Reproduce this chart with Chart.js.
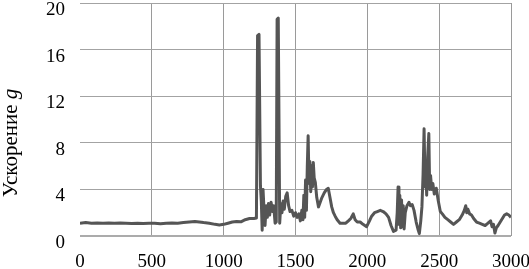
<!DOCTYPE html>
<html>
<head>
<meta charset="utf-8">
<script src="https://cdn.jsdelivr.net/npm/chart.js@4"></script>
<style>
    html, body { margin: 0; padding: 0; background: #fff; }
    #wrap { width: 529px; height: 269px; position: relative; }
</style>
</head>
<body>
<div id="wrap"><canvas id="accelChart"></canvas></div>
<script>
// time axis (x) and acceleration in g (y)
const timeValues = [
    0, 40, 80, 120, 160, 200, 240, 280, 320, 360, 400, 440, 480, 520, 560, 600, 640, 680, 720, 760,
    800, 830, 860, 900, 940, 970, 1000, 1030, 1060, 1090, 1120, 1150, 1180, 1210, 1228,
    1236, 1246, 1256, 1262, 1268, 1274, 1282, 1288, 1296, 1304, 1312, 1320, 1330, 1340, 1348, 1358,
    1366, 1372, 1380, 1390, 1398, 1406, 1414, 1422, 1432, 1442, 1452, 1462, 1475, 1488,
    1500, 1512, 1524, 1534, 1544, 1552, 1558, 1564, 1570, 1576, 1582, 1588, 1594, 1600, 1606, 1612,
    1618, 1624, 1630, 1638, 1648, 1660, 1672, 1684, 1700, 1716, 1728, 1740, 1752, 1764, 1776, 1790,
    1810, 1830, 1850, 1868, 1885, 1902, 1915, 1930, 1950, 1970, 1995, 2015, 2030, 2050, 2070, 2090,
    2110, 2130, 2148, 2165, 2182, 2200, 2208, 2214, 2220, 2226, 2232, 2238, 2244, 2250, 2256, 2264,
    2276, 2290, 2300, 2312, 2325, 2340, 2352, 2362, 2372, 2380, 2388, 2395, 2402, 2408, 2413, 2420,
    2428, 2434, 2440, 2448, 2456, 2466, 2480, 2494, 2508, 2522, 2540, 2560, 2580, 2600, 2620, 2640,
    2660, 2675, 2685, 2692, 2700, 2712, 2725, 2740, 2760, 2780, 2800, 2820, 2840, 2858, 2868, 2878,
    2888, 2898, 2910, 2925, 2940, 2955, 2970, 2985, 3000
];
const accelValues = [
    1.1, 1.15, 1.1, 1.12, 1.1, 1.12, 1.1, 1.12, 1.1, 1.08, 1.1, 1.08, 1.1, 1.1, 1.05, 1.1, 1.12, 1.1, 1.15, 1.2,
    1.25, 1.2, 1.15, 1.1, 1.0, 0.95, 1.0, 1.1, 1.2, 1.25, 1.22, 1.4, 1.5, 1.5, 1.55,
    17.2, 17.3, 4.3, 3.0, 0.5, 4.0, 2.0, 0.9, 2.6, 1.6, 2.8, 1.8, 2.9, 2.1, 2.6, 1.1,
    1.2, 18.6, 18.7, 1.1, 2.8, 2.0, 3.0, 2.3, 3.4, 3.7, 2.6, 2.1, 2.2, 1.7,
    2.0, 1.6, 1.9, 1.3, 2.2, 1.4, 3.5, 1.6, 4.8, 2.2, 5.9, 8.6, 4.5, 6.4, 3.8, 6.0,
    4.2, 6.3, 5.0, 4.6, 3.3, 2.5, 2.9, 3.3, 3.7, 4.0, 4.1, 3.3, 2.5, 2.0, 1.7, 1.4,
    1.1, 1.1, 1.1, 1.3, 1.5, 1.9, 1.4, 1.2, 1.2, 1.0, 0.8, 1.3, 1.7, 2.0, 2.1, 2.2,
    2.1, 1.9, 1.6, 0.9, 0.4, 0.5, 2.0, 4.2, 1.0, 3.5, 0.7, 3.1, 0.8, 2.6, 0.6, 2.0,
    2.6, 2.9, 2.6, 2.7, 2.2, 1.2, 0.6, 0.2, 1.3, 2.5, 5.3, 9.2, 4.2, 5.5, 3.5, 6.8,
    8.8, 4.0, 5.2, 4.0, 4.5, 3.6, 4.1, 3.0, 2.1, 1.9, 1.6, 1.4, 1.2, 1.0, 1.2, 1.4,
    1.8, 2.2, 2.6, 2.0, 2.3, 1.9, 1.8, 1.5, 1.2, 1.1, 1.0, 0.9, 1.1, 1.3, 0.8, 1.0,
    0.25, 0.7, 0.9, 1.2, 1.5, 1.8, 1.9, 1.8, 1.6
];
const xTicks = [0, 500, 1000, 1500, 2000, 2500, 3000];
const yLabelled = [0, 4, 8, 12, 16, 20];
const yTitle = 'Ускорение ';
const yTitleVar = 'g';

const serifFamily = '"Liberation Serif", serif';

// y title with the italic g, drawn rotated on the left
const yTitlePlugin = {
    id: 'yTitle',
    afterDraw(chart) {
        const ctx = chart.ctx;
        ctx.save();
        ctx.fillStyle = '#000';
        ctx.textBaseline = 'alphabetic';
        ctx.font = '21px ' + serifFamily;
        const w1 = ctx.measureText(yTitle).width;
        ctx.font = 'italic 21px ' + serifFamily;
        const w2 = ctx.measureText(yTitleVar).width;
        ctx.translate(17, 143);
        ctx.rotate(-Math.PI / 2);
        const start = -(w1 + w2) / 2;
        ctx.font = '21px ' + serifFamily;
        ctx.fillText(yTitle, start, 0);
        ctx.font = 'italic 21px ' + serifFamily;
        ctx.fillText(yTitleVar, start + w1, 0);
        ctx.restore();
    }
};

const points = timeValues.map((t, i) => ({ x: t, y: accelValues[i] }));

new Chart(document.getElementById('accelChart'), {
    type: 'line',
    data: {
        datasets: [{
            data: points,
            borderColor: '#555555',
            borderWidth: 3,
            borderJoinStyle: 'round',
            pointRadius: 0,
            tension: 0,
            fill: false
        }]
    },
    options: {
        responsive: true,
        maintainAspectRatio: false,
        animation: false,
        layout: { padding: 0 },
        plugins: {
            legend: { display: false },
            tooltip: { enabled: false }
        },
        scales: {
            x: {
                type: 'linear',
                min: 0,
                max: 3000,
                afterBuildTicks: (scale) => { scale.ticks = xTicks.map(v => ({ value: v })); },
                afterFit: (scale) => { scale.height = 33; scale.paddingRight = 18; },
                border: { display: false },
                grid: {
                    drawTicks: false,
                    color: (c) => c.tick && c.tick.value === 0 ? 'rgba(0,0,0,0)' : '#9a9a9a',
                    lineWidth: 1
                },
                ticks: {
                    padding: 15,
                    color: '#000',
                    font: { family: serifFamily, size: 19 },
                    maxRotation: 0,
                    callback: (v) => String(v)
                }
            },
            y: {
                min: 0,
                max: 20,
                afterFit: (scale) => { scale.width = 80; scale.paddingTop = 3; scale.paddingBottom = 0; },
                border: { display: false },
                grid: {
                    drawTicks: false,
                    color: (c) => c.tick && c.tick.value === 0 ? '#ababab' : '#a3a3a3',
                    lineWidth: (c) => c.tick && c.tick.value === 0 ? 2 : 1
                },
                ticks: {
                    stepSize: 2,
                    padding: 15,
                    labelOffset: 7,
                    color: '#000',
                    font: { family: serifFamily, size: 19 },
                    callback: (v) => yLabelled.includes(v) ? String(v) : ''
                }
            }
        }
    },
    plugins: [yTitlePlugin]
});
</script>
</body>
</html>
